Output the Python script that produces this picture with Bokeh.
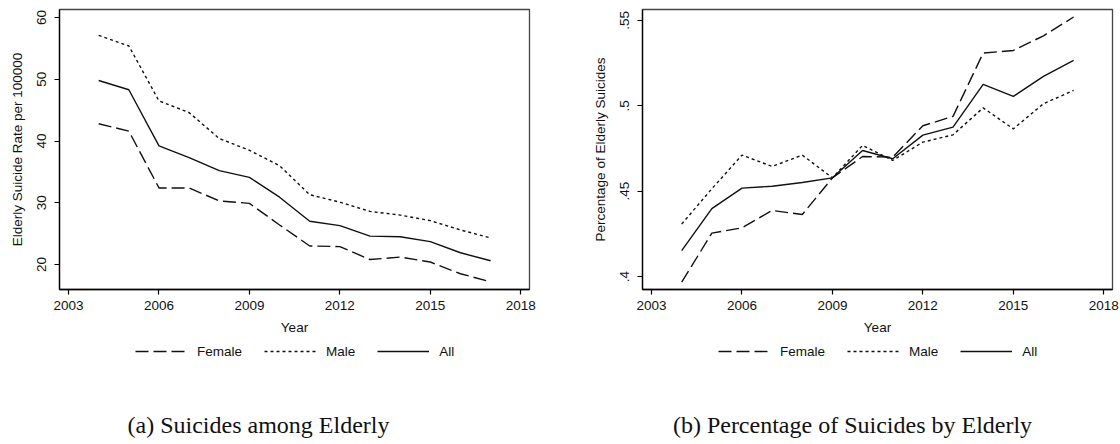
from bokeh.plotting import figure
from bokeh.layouts import row, column
from bokeh.models import Range1d, FixedTicker, Legend, LegendItem, Label
from bokeh.embed import file_html
from bokeh.resources import INLINE

# ---- data -------------------------------------------------------------
years = [2004, 2005, 2006, 2007, 2008, 2009, 2010, 2011, 2012, 2013, 2014, 2015, 2016, 2017]

rate_female = [42.8, 41.6, 32.4, 32.4, 30.3, 29.9, 26.4, 23.0, 22.9, 20.8, 21.2, 20.4, 18.5, 17.2]
rate_male = [57.1, 55.4, 46.5, 44.6, 40.4, 38.5, 36.0, 31.3, 30.1, 28.6, 28.0, 27.1, 25.6, 24.3]
rate_all = [49.8, 48.3, 39.2, 37.3, 35.2, 34.1, 30.9, 27.0, 26.3, 24.6, 24.5, 23.7, 21.9, 20.6]

pct_female = [0.3967, 0.4254, 0.4285, 0.4387, 0.4363, 0.4578, 0.4703, 0.4699, 0.4883, 0.4938, 0.5309, 0.5324, 0.5410, 0.5520]
pct_male = [0.4307, 0.4514, 0.4711, 0.4645, 0.4711, 0.4578, 0.4768, 0.4680, 0.4787, 0.4830, 0.4988, 0.4865, 0.5012, 0.5090]
pct_all = [0.4152, 0.4398, 0.4518, 0.4529, 0.4551, 0.4578, 0.4738, 0.4690, 0.4828, 0.4875, 0.5125, 0.5055, 0.5172, 0.5266]

x_ticks = [2003, 2006, 2009, 2012, 2015, 2018]
rate_ticks = [20, 30, 40, 50, 60]
pct_ticks = [0.4, 0.45, 0.5, 0.55]
pct_tick_labels = [".4", ".45", ".5", ".55"]

series_names = ["Female", "Male", "All"]

SANS = "Liberation Sans"
SERIF = "Liberation Serif"
DASHES = {"Female": "13 5", "Male": "3 3", "All": "solid"}
LINE_COLOR = "#111111"
LINE_W = 1.4

PLOT_H = 345           # height of the chart row (frame + axes)
FOOT_H = 444 - PLOT_H  # height of the legend / caption strip


def chart(series, y_range, y_ticks, y_label, border_left, border_right, tick_labels=None):
    p = figure(width=560, height=PLOT_H, output_backend="svg", toolbar_location=None,
               x_range=Range1d(2002.70, 2018.29), y_range=y_range,
               min_border_left=border_left, min_border_right=border_right,
               min_border_top=9, min_border_bottom=PLOT_H - 289)
    p.background_fill_color = "white"
    p.border_fill_color = "white"
    p.outline_line_color = "#444444"
    p.outline_line_width = 1.3
    p.grid.visible = False

    for name, ys in zip(series_names, series):
        p.line(years, ys, line_color=LINE_COLOR, line_width=LINE_W, line_dash=DASHES[name])

    for ax in (p.xaxis[0], p.yaxis[0]):
        ax.axis_line_color = "black"
        ax.axis_line_width = 1.3
        ax.major_tick_line_color = "black"
        ax.major_tick_line_width = 1.2
        ax.major_tick_in = 0
        ax.major_tick_out = 5
        ax.minor_tick_line_color = None
        ax.major_label_text_font = SANS
        ax.major_label_text_font_size = "13.5px"
        ax.major_label_text_color = LINE_COLOR
        ax.axis_label_text_font = SANS
        ax.axis_label_text_font_size = "13.5px"
        ax.axis_label_text_font_style = "normal"
        ax.axis_label_text_color = LINE_COLOR

    p.xaxis.ticker = FixedTicker(ticks=x_ticks)
    p.xaxis.axis_label = "Year"
    p.xaxis.major_label_standoff = 6
    p.xaxis.axis_label_standoff = 7

    p.yaxis.ticker = FixedTicker(ticks=y_ticks)
    p.yaxis.axis_label = y_label
    p.yaxis.major_label_orientation = "vertical"
    p.yaxis.major_label_standoff = 8
    p.yaxis.axis_label_standoff = 10
    if tick_labels is not None:
        p.yaxis.major_label_overrides = dict(zip(y_ticks, tick_labels))
    return p


def footer(legend_x, caption, caption_x):
    f = figure(width=560, height=FOOT_H, output_backend="svg", toolbar_location=None,
               x_range=Range1d(0, 1), y_range=Range1d(0, 1),
               x_axis_type=None, y_axis_type=None,
               min_border_left=0, min_border_right=0, min_border_top=0, min_border_bottom=0)
    f.outline_line_color = None
    f.grid.visible = False
    f.background_fill_color = "white"
    f.border_fill_color = "white"

    # legend keys: line renderers with no drawable points, carrying the series styles
    nan = float("nan")
    keys = [f.line([nan], [nan], line_color=LINE_COLOR, line_width=LINE_W, line_dash=DASHES[n])
            for n in series_names]
    legend = Legend(items=[LegendItem(label=n, renderers=[k])
                           for n, k in zip(series_names, keys)],
                    orientation="horizontal", location=(legend_x, FOOT_H - 14),
                    border_line_color=None, background_fill_alpha=0,
                    glyph_width=52, glyph_height=16, label_standoff=10,
                    spacing=22, padding=0, margin=0,
                    label_text_font=SANS, label_text_font_size="13.5px",
                    label_text_color=LINE_COLOR)
    f.add_layout(legend)

    f.add_layout(Label(x=caption_x, y=20, x_units="screen", y_units="screen",
                       text=caption, text_align="center", text_baseline="middle",
                       text_font=SERIF, text_font_size="24px", text_color=LINE_COLOR))
    return f


p1 = chart([rate_female, rate_male, rate_all], Range1d(15.95, 61.3), rate_ticks,
           "Elderly Suicide Rate per 100000", 59, 31)
p2 = chart([pct_female, pct_male, pct_all], Range1d(0.3924, 0.5564), pct_ticks,
           "Percentage of Elderly Suicides", 82, 8, tick_labels=pct_tick_labels)

f1 = footer(135, "(a) Suicides among Elderly", 258)
f2 = footer(158, "(b) Percentage of Suicides by Elderly", 292)

layout = column(row(p1, p2), row(f1, f2))
open("out.html", "w").write(file_html(layout, INLINE))
